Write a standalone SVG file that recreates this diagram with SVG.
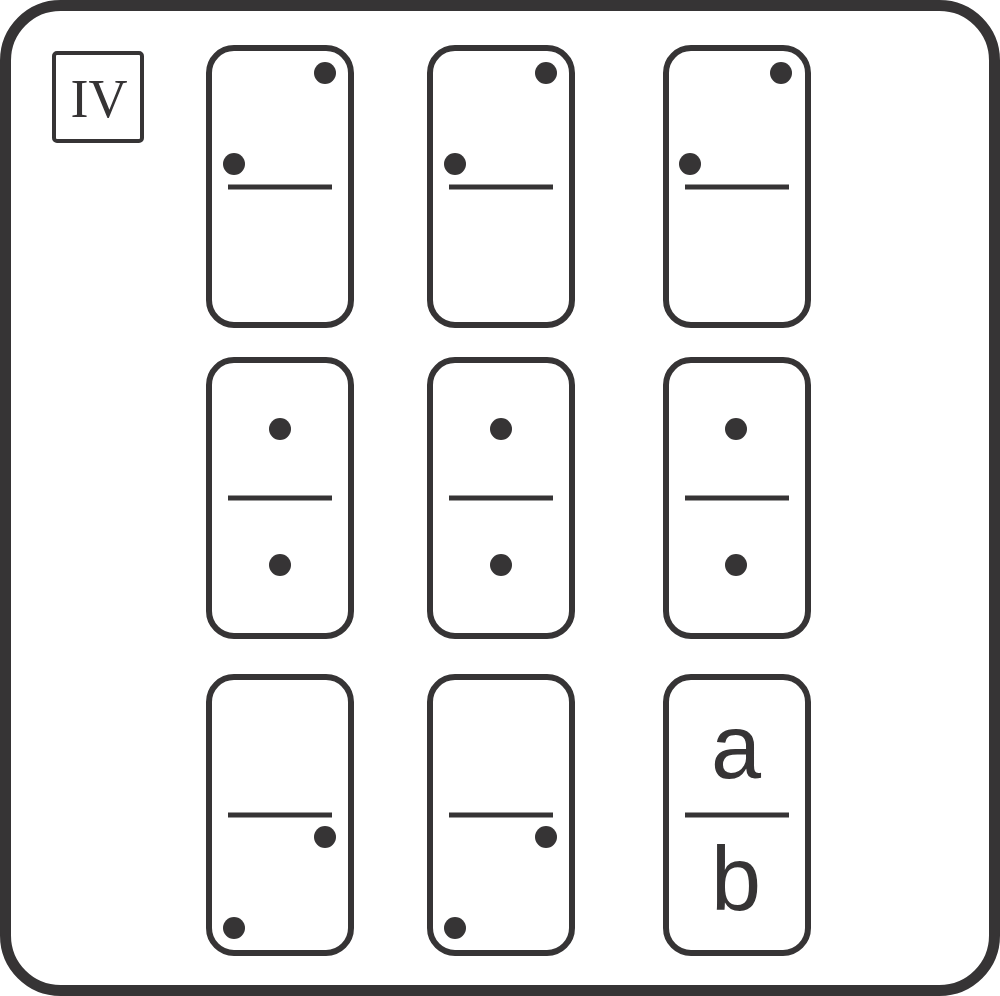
<svg xmlns="http://www.w3.org/2000/svg" width="1000" height="996" viewBox="0 0 1000 996">
<style>
.frame{fill:#fff;stroke:#363435;stroke-width:11}
.tile{fill:#fff;stroke:#363435;stroke-width:6}
.bar{stroke:#363435;stroke-width:5}
.pip{fill:#363435}
.lbl{font-family:"Liberation Serif",serif;font-size:54px;fill:#363435;text-anchor:middle}
.ab{font-family:"Liberation Sans",Arial,sans-serif;font-size:90px;fill:#363435;text-anchor:middle}
</style>
<rect class="frame" x="5.5" y="5.5" width="989" height="985" rx="55"/>
<g id="label">
<rect x="54" y="53" width="88" height="88" rx="3" fill="#fff" stroke="#363435" stroke-width="4"/>
<text class="lbl" x="99" y="117">IV</text>
</g>
<g id="d11"><rect class="tile" x="209" y="48" width="142" height="277" rx="25"/><line class="bar" x1="228" y1="187" x2="332" y2="187"/><circle class="pip" cx="325" cy="73" r="11"/><circle class="pip" cx="234" cy="164" r="11"/></g>
<g id="d12"><rect class="tile" x="430" y="48" width="142" height="277" rx="25"/><line class="bar" x1="449" y1="187" x2="553" y2="187"/><circle class="pip" cx="546" cy="73" r="11"/><circle class="pip" cx="455" cy="164" r="11"/></g>
<g id="d13"><rect class="tile" x="666" y="48" width="142" height="277" rx="25"/><line class="bar" x1="685" y1="187" x2="789" y2="187"/><circle class="pip" cx="781" cy="73" r="11"/><circle class="pip" cx="690" cy="164" r="11"/></g>
<g id="d21"><rect class="tile" x="209" y="360" width="142" height="276" rx="25"/><line class="bar" x1="228" y1="498" x2="332" y2="498"/><circle class="pip" cx="280" cy="429" r="11"/><circle class="pip" cx="280" cy="565" r="11"/></g>
<g id="d22"><rect class="tile" x="430" y="360" width="142" height="276" rx="25"/><line class="bar" x1="449" y1="498" x2="553" y2="498"/><circle class="pip" cx="501" cy="429" r="11"/><circle class="pip" cx="501" cy="565" r="11"/></g>
<g id="d23"><rect class="tile" x="666" y="360" width="142" height="276" rx="25"/><line class="bar" x1="685" y1="498" x2="789" y2="498"/><circle class="pip" cx="736" cy="429" r="11"/><circle class="pip" cx="736" cy="565" r="11"/></g>
<g id="d31"><rect class="tile" x="209" y="677" width="142" height="276" rx="25"/><line class="bar" x1="228" y1="815" x2="332" y2="815"/><circle class="pip" cx="325" cy="837" r="11"/><circle class="pip" cx="234" cy="928" r="11"/></g>
<g id="d32"><rect class="tile" x="430" y="677" width="142" height="276" rx="25"/><line class="bar" x1="449" y1="815" x2="553" y2="815"/><circle class="pip" cx="546" cy="837" r="11"/><circle class="pip" cx="455" cy="928" r="11"/></g>
<g id="d33"><rect class="tile" x="666" y="677" width="142" height="276" rx="25"/><line class="bar" x1="685" y1="815" x2="789" y2="815"/><text class="ab" x="736" y="778">a</text><text class="ab" x="736" y="910">b</text></g>
<g id="connectors"/>
</svg>
